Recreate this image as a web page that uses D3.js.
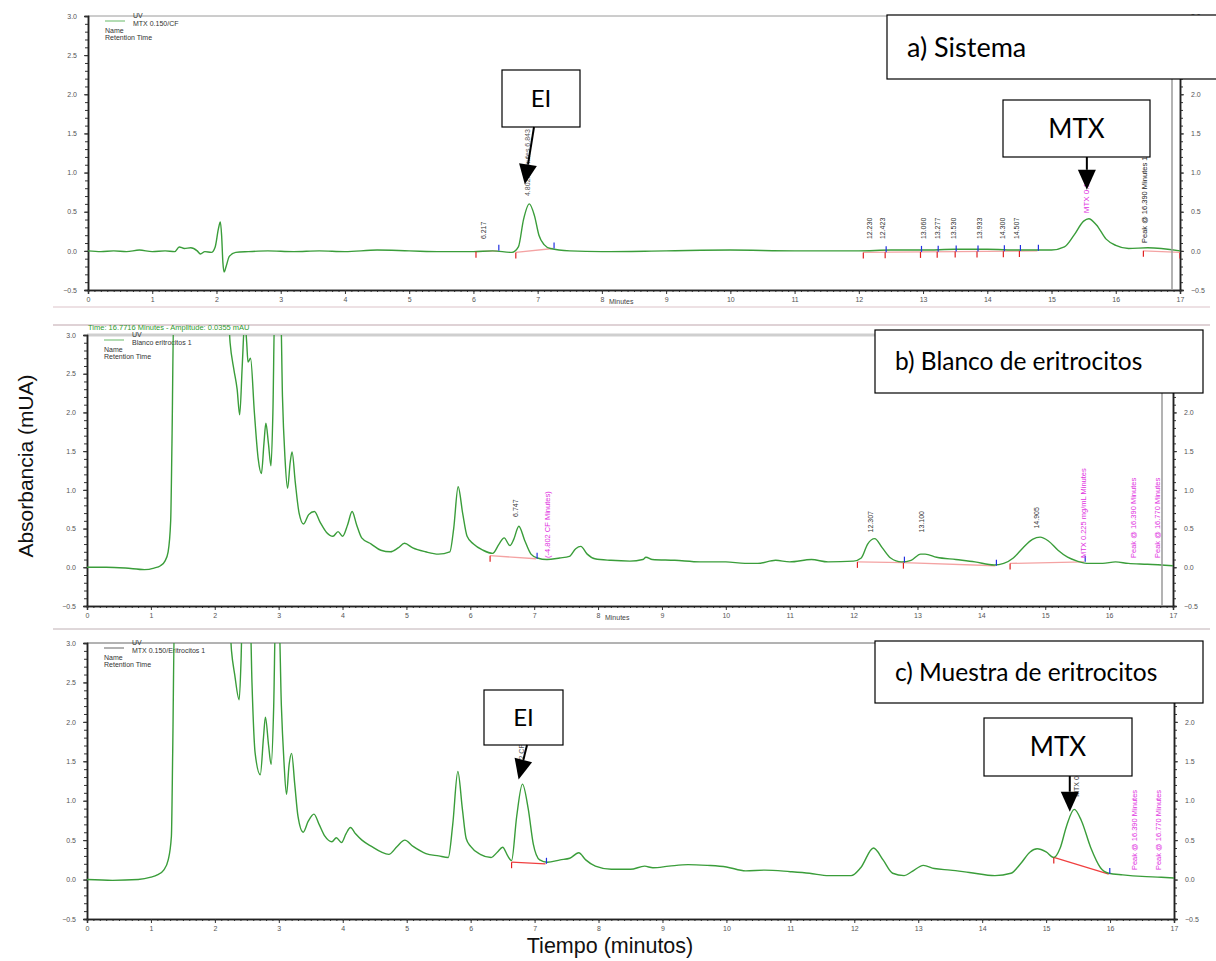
<!DOCTYPE html>
<html>
<head>
<meta charset="utf-8">
<script src="https://cdn.jsdelivr.net/npm/d3@7"></script>
<style>
  body { margin: 0; background: #fff; }
  svg { display: block; }
  .tick text { font-family: "Liberation Sans", Arial, sans-serif; }
</style>
</head>
<body>
<script>
// chromatogram traces, [minutes, mAU]
const sistema = [[0,0],[0.2,-0.01],[0.4,0.0],[0.6,-0.01],[0.8,0.01],[1.0,-0.01],[1.2,0.0],[1.35,-0.01],[1.42,0.05],[1.5,0.03],[1.6,0.04],[1.7,0.0],[1.75,-0.04],[1.82,-0.01],[1.92,-0.02],[1.98,0.05],[2.03,0.28],[2.06,0.37],[2.08,0.2],[2.1,-0.15],[2.12,-0.27],[2.15,-0.2],[2.2,-0.07],[2.3,-0.02],[2.5,-0.01],[2.8,0.0],[3.2,-0.01],[3.6,0.0],[4.0,-0.01],[4.5,0.01],[5.0,0.0],[5.5,-0.01],[6.0,-0.01],[6.3,0.0],[6.6,-0.02],[6.7,0.05],[6.78,0.4],[6.87,0.6],[6.95,0.45],[7.02,0.2],[7.1,0.08],[7.2,0.03],[7.5,0.0],[8.0,-0.01],[9.0,0.0],[10,0.01],[11,0.0],[12,0.0],[12.5,0.01],[13,0.01],[13.5,0.02],[14,0.02],[14.5,0.01],[15.0,0.01],[15.2,0.05],[15.35,0.2],[15.5,0.38],[15.58,0.41],[15.7,0.33],[15.85,0.15],[16.0,0.07],[16.2,0.03],[16.5,0.04],[17,0.0]]

const blanco = [[0,0],[0.3,0.0],[0.6,-0.01],[0.9,-0.03],[1.05,-0.01],[1.15,0.02],[1.22,0.08],[1.27,0.2],[1.31,0.6],[1.33,1.6],[1.36,3.4],[2.2,3.4],[2.24,2.9],[2.3,2.55],[2.35,2.3],[2.39,1.97],[2.43,2.6],[2.47,3.2],[2.5,2.9],[2.52,2.65],[2.56,2.7],[2.62,2.0],[2.68,1.4],[2.73,1.21],[2.77,1.6],[2.8,1.86],[2.84,1.6],[2.88,1.31],[2.91,2.0],[2.94,3.4],[3.03,3.4],[3.06,2.2],[3.1,1.4],[3.14,1.02],[3.18,1.35],[3.21,1.49],[3.26,1.1],[3.32,0.7],[3.39,0.56],[3.47,0.68],[3.56,0.72],[3.65,0.58],[3.75,0.45],[3.85,0.4],[3.93,0.46],[4.0,0.4],[4.08,0.55],[4.15,0.72],[4.22,0.55],[4.3,0.38],[4.45,0.3],[4.6,0.22],[4.75,0.2],[4.87,0.25],[4.97,0.31],[5.1,0.25],[5.3,0.2],[5.5,0.17],[5.68,0.2],[5.74,0.5],[5.81,1.04],[5.88,0.7],[5.95,0.4],[6.05,0.3],[6.2,0.22],[6.35,0.18],[6.45,0.3],[6.53,0.38],[6.62,0.28],[6.68,0.36],[6.76,0.53],[6.85,0.35],[6.95,0.17],[7.05,0.12],[7.2,0.1],[7.4,0.12],[7.55,0.14],[7.65,0.24],[7.73,0.27],[7.83,0.17],[7.95,0.11],[8.2,0.09],[8.5,0.08],[8.7,0.1],[8.75,0.13],[8.85,0.1],[9.2,0.09],[9.6,0.07],[10.0,0.07],[10.3,0.05],[10.5,0.05],[10.78,0.09],[11.0,0.07],[11.34,0.1],[11.6,0.07],[12.0,0.08],[12.12,0.12],[12.22,0.3],[12.33,0.37],[12.45,0.25],[12.58,0.12],[12.75,0.07],[12.9,0.09],[13.05,0.17],[13.12,0.17],[13.3,0.13],[13.6,0.1],[13.9,0.07],[14.2,0.03],[14.35,0.05],[14.5,0.12],[14.65,0.25],[14.8,0.36],[14.92,0.39],[15.05,0.34],[15.2,0.22],[15.35,0.13],[15.5,0.08],[15.65,0.05],[15.9,0.05],[16.1,0.07],[16.3,0.05],[16.6,0.04],[17,0.02]]

const muestra = [[0,0],[0.4,-0.01],[0.8,0.0],[1.0,0.03],[1.1,0.06],[1.2,0.12],[1.27,0.25],[1.32,0.55],[1.34,1.6],[1.37,3.4],[2.22,3.4],[2.26,2.9],[2.31,2.6],[2.38,2.28],[2.41,2.8],[2.43,3.4],[2.55,3.4],[2.58,2.5],[2.63,1.6],[2.71,1.33],[2.76,1.8],[2.79,2.06],[2.84,1.7],[2.88,1.46],[2.92,2.2],[2.95,3.4],[3.0,3.4],[3.04,2.2],[3.08,1.5],[3.12,1.08],[3.16,1.45],[3.2,1.6],[3.25,1.2],[3.3,0.8],[3.38,0.6],[3.46,0.74],[3.55,0.83],[3.63,0.7],[3.72,0.55],[3.83,0.48],[3.9,0.53],[3.98,0.47],[4.05,0.58],[4.12,0.66],[4.2,0.58],[4.3,0.5],[4.45,0.42],[4.6,0.35],[4.72,0.32],[4.85,0.42],[4.97,0.5],[5.1,0.42],[5.3,0.33],[5.5,0.3],[5.65,0.28],[5.72,0.7],[5.8,1.37],[5.87,0.9],[5.93,0.52],[6.0,0.42],[6.15,0.32],[6.32,0.28],[6.42,0.35],[6.5,0.41],[6.58,0.3],[6.64,0.24],[6.72,0.8],[6.81,1.21],[6.9,0.9],[6.98,0.45],[7.08,0.25],[7.2,0.22],[7.4,0.25],[7.55,0.27],[7.69,0.34],[7.8,0.25],[7.95,0.17],[8.2,0.13],[8.5,0.13],[8.72,0.17],[8.85,0.15],[9.1,0.17],[9.4,0.19],[9.7,0.18],[10.0,0.16],[10.3,0.11],[10.6,0.12],[11.0,0.1],[11.3,0.08],[11.6,0.05],[11.95,0.05],[12.1,0.15],[12.3,0.4],[12.45,0.25],[12.6,0.08],[12.78,0.05],[12.9,0.1],[13.08,0.18],[13.25,0.14],[13.5,0.12],[13.8,0.09],[14.2,0.05],[14.45,0.08],[14.6,0.2],[14.75,0.35],[14.86,0.39],[15.0,0.35],[15.12,0.28],[15.22,0.4],[15.32,0.68],[15.44,0.89],[15.55,0.75],[15.7,0.4],[15.85,0.15],[15.98,0.08],[16.2,0.06],[16.5,0.04],[16.8,0.03],[17,0.02]]

// integration baselines [t1, v1, t2, v2]
const baseA = [[6.04,-0.01,6.38,0.0],[6.66,-0.02,7.24,0.03],[12.07,-0.02,14.78,0.0],[16.43,0.0,17.0,-0.02]]
const baseB = [[6.31,0.15,7.03,0.11],[12.06,0.07,12.78,0.06],[12.78,0.06,14.22,0.02],[14.45,0.05,15.61,0.07]]
const baseC = [[6.64,0.22,7.17,0.2],[15.12,0.28,15.98,0.07]]
const redA = [6.04,6.66,12.07,12.41,12.96,13.22,13.5,13.84,14.25,14.5,16.43,17.0]
const blueA = [6.38,7.24,12.41,12.96,13.22,13.5,13.84,14.25,14.5,14.78]
const redB = [6.31,12.06,12.78,14.45]
const blueB = [7.03,12.78,14.22,15.61]
const redC = [6.64,15.12]
const blueC = [7.17,15.98]

// peak labels [minutes, text]
const labelsA = [[6.217,'6.217'],[12.23,'12.230'],[12.423,'12.423'],[13.06,'13.060'],[13.277,'13.277'],[13.53,'13.530'],[13.933,'13.933'],[14.3,'14.300'],[14.507,'14.507']]
const labelsB = [[6.747,'6.747'],[12.307,'12.307'],[13.1,'13.100'],[14.905,'14.905']]
const magentaB = [[7.22,'(-4.802 CF Minutes)'],[15.6,'MTX 0.225 mg/mL Minutes'],[16.39,'Peak @ 16.390 Minutes'],[16.77,'Peak @ 16.770 Minutes']]
const magentaC = [[16.39,'Peak @ 16.390 Minutes'],[16.77,'Peak @ 16.770 Minutes']]

const yTicks = [-0.5, 0.0, 0.5, 1.0, 1.5, 2.0, 2.5, 3.0]
const xTicks = d3.range(0, 18)

const W = 1216, H = 961
const svg = d3.select('body').append('svg').attr('width', W).attr('height', H)
const fnt = '"Liberation Sans", Arial, sans-serif'
const boxFont = 'Lato, "Open Sans", sans-serif'

const panels = [
  { data: sistema, x0: 88, x1: 1180, y0: 290, y1: 16, name: 'MTX 0.150/CF', base: baseA, red: redA, blue: blueA, minutes: true },
  { data: blanco, x0: 87, x1: 1173, y0: 606, y1: 335, name: 'Blanco eritrocitos 1', base: baseB, red: redB, blue: blueB, minutes: true },
  { data: muestra, x0: 87, x1: 1174, y0: 919, y1: 643, name: 'MTX 0.150/Eritrocitos 1', base: baseC, red: redC, blue: blueC, minutes: false }
]

// separators between the pasted panels
const sep = [[307, '#dcc3c9'], [325, '#bfa5ac'], [629, '#bfb0b4']]
sep.forEach(s => svg.append('line').attr('x1', 53).attr('x2', 1210).attr('y1', s[0]).attr('y2', s[0]).attr('stroke', s[1]).attr('stroke-width', 1))

panels.forEach((p, i) => {
  p.x = d3.scaleLinear().domain([0, 17]).range([p.x0, p.x1])
  p.y = d3.scaleLinear().domain([-0.5, 3.0]).range([p.y0, p.y1])
  const g = svg.append('g')

  // top frame
  const topStyle = [['#9a9a9a', 1], ['#cfcfcf', 3], ['#666', 1]][i]
  g.append('line').attr('x1', p.x0).attr('x2', p.x1).attr('y1', p.y1).attr('y2', p.y1)
    .attr('stroke', topStyle[0]).attr('stroke-width', topStyle[1])

  const clipId = 'clip' + i
  svg.append('clipPath').attr('id', clipId).append('rect')
    .attr('x', p.x0).attr('y', p.y1).attr('width', p.x1 - p.x0).attr('height', p.y0 - p.y1)

  // axes
  const yMinor = d3.range(-0.5, 3.001, 0.1)
  const xMinor = d3.range(0, 17.001, 0.1)
  g.append('g').attr('transform', `translate(${p.x0},0)`)
    .call(d3.axisLeft(p.y).tickValues(yMinor).tickSize(3).tickFormat(''))
  g.append('g').attr('transform', `translate(${p.x0},0)`)
    .call(d3.axisLeft(p.y).tickValues(yTicks).tickSize(4).tickPadding(7).tickFormat(d3.format('.1f')))
  g.append('g').attr('transform', `translate(${p.x1},0)`)
    .call(d3.axisRight(p.y).tickValues(yMinor).tickSize(3).tickFormat(''))
  g.append('g').attr('transform', `translate(${p.x1},0)`)
    .call(d3.axisRight(p.y).tickValues(yTicks).tickSize(4).tickPadding(7).tickFormat(d3.format('.1f')))
  g.append('g').attr('transform', `translate(0,${p.y0})`)
    .call(d3.axisBottom(p.x).tickValues(xMinor).tickSize(2).tickFormat(''))
  g.append('g').attr('transform', `translate(0,${p.y0})`)
    .call(d3.axisBottom(p.x).tickValues(xTicks).tickSize(4).tickPadding(3).tickFormat(d3.format('d')))
  g.selectAll('.domain').attr('stroke', '#222').attr('stroke-width', 1.5)
  g.selectAll('.tick line').attr('stroke', '#333')
  g.selectAll('.tick text').attr('font-size', 7).attr('fill', '#555')

  if (p.minutes) {
    g.append('text').attr('x', p.x(8.3)).attr('y', p.y0 + 14).attr('text-anchor', 'middle')
      .attr('font-family', fnt).attr('font-size', 7).attr('fill', '#444').text('Minutes')
  }

  // legend block
  const lx = p.x0 + 17, ly = p.y1
  g.append('line').attr('x1', lx).attr('x2', lx + 20).attr('y1', ly + 5).attr('y2', ly + 5)
    .attr('stroke', i === 2 ? '#999' : '#9ad09a').attr('stroke-width', 1.5)
  const leg = [['UV', lx + 28, ly + 2], [p.name, lx + 28, ly + 9.5], ['Name', lx, ly + 16.5], ['Retention Time', lx, ly + 23.5]]
  leg.forEach(l => g.append('text').attr('x', l[1]).attr('y', l[2]).attr('font-family', fnt)
    .attr('font-size', 7).attr('fill', '#333').text(l[0]))

  // integration baselines
  const plot = g.append('g').attr('clip-path', `url(#${clipId})`)
  plot.selectAll('line.base').data(p.base).enter().append('line')
    .attr('x1', d => p.x(d[0])).attr('y1', d => p.y(d[1]))
    .attr('x2', d => p.x(d[2])).attr('y2', d => p.y(d[3]))
    .attr('stroke', i === 2 ? '#f04040' : '#f4a3a3').attr('stroke-width', 1.3)

  // trace
  const line = d3.line().x(d => p.x(d[0])).y(d => p.y(d[1])).curve(d3.curveMonotoneX)
  plot.append('path').datum(p.data).attr('d', line).attr('fill', 'none')
    .attr('stroke', '#3a9d3a').attr('stroke-width', 1.4)

  // peak start / end marks
  const baseAt = t => {
    const seg = p.base.find(s => t >= s[0] - 0.01 && t <= s[2] + 0.01)
    if (!seg) return 0
    return seg[1] + (seg[3] - seg[1]) * (t - seg[0]) / (seg[2] - seg[0])
  }
  p.red.forEach(t => plot.append('line').attr('x1', p.x(t)).attr('x2', p.x(t))
    .attr('y1', p.y(baseAt(t))).attr('y2', p.y(baseAt(t)) + 6).attr('stroke', '#e02020').attr('stroke-width', 1.2))
  p.blue.forEach(t => plot.append('line').attr('x1', p.x(t) + 1).attr('x2', p.x(t) + 1)
    .attr('y1', p.y(baseAt(t)) - 6).attr('y2', p.y(baseAt(t))).attr('stroke', '#2030e0').attr('stroke-width', 1.2))
})

const [pa, pb, pc] = panels

const vtext = (x, y, txt, color, size) => svg.append('text')
  .attr('transform', `translate(${x},${y}) rotate(-90)`)
  .attr('font-family', fnt).attr('font-size', size || 7).attr('fill', color)
  .attr('dominant-baseline', 'middle').text(txt)

labelsA.forEach(l => vtext(pa.x(l[0]) - 3, pa.y(0.15), l[1], '#333'))
vtext(pa.x(6.86), pa.y(0.7), '4.802x Minutes 6.843', '#555')
vtext(pa.x(15.55), pa.y(0.48), 'MTX 0.150', '#e030e0', 8)
vtext(pa.x(16.45), pa.y(0.1), 'Peak @ 16.390 Minutes  16.500', '#222', 7.5)

labelsB.forEach(l => vtext(pb.x(l[0]) - 2, pb.y(l[0] > 14 ? 0.5 : (l[0] < 7 ? 0.65 : 0.45)), l[1], '#333'))
magentaB.forEach(l => vtext(pb.x(l[0]), pb.y(0.12), l[1], '#e030e0', 7.5))
magentaC.forEach(l => vtext(pc.x(l[0]), pc.y(0.12), l[1], '#e030e0', 7.5))
vtext(pc.x(15.48), pc.y(1.05), 'MTX 0.225', '#333', 7)
vtext(pc.x(6.8), pc.y(1.35), '4.802 CF', '#555', 7)

// the cursor lines
svg.append('line').attr('x1', 1172).attr('x2', 1172).attr('y1', 79).attr('y2', pa.y0).attr('stroke', '#9a9a9a').attr('stroke-width', 1.5)
svg.append('line').attr('x1', 1162).attr('x2', 1162).attr('y1', 393).attr('y2', pb.y0).attr('stroke', '#9a9a9a').attr('stroke-width', 1.5)

svg.append('text').attr('x', 88).attr('y', 330).attr('font-family', fnt).attr('font-size', 7.5)
  .attr('fill', '#2f9a2f').text('Time:   16.7716 Minutes  -  Amplitude:   0.0355 mAU')

// annotation boxes
const box = (x, y, w, h, txt, size, tx) => {
  svg.append('rect').attr('x', x).attr('y', y).attr('width', w).attr('height', h)
    .attr('fill', '#fff').attr('stroke', '#000').attr('stroke-width', 1.2)
  svg.append('text').attr('x', tx === undefined ? x + w / 2 : tx).attr('y', y + h / 2 + size * 0.36)
    .attr('text-anchor', tx === undefined ? 'middle' : 'start')
    .attr('font-family', boxFont).attr('font-size', size).attr('fill', '#000').text(txt)
}

const arrow = (x1, y1, x2, y2) => {
  const a = Math.atan2(y2 - y1, x2 - x1), L = 20, Wd = 9
  const bx = x2 - L * Math.cos(a), by = y2 - L * Math.sin(a)
  svg.append('line').attr('x1', x1).attr('y1', y1).attr('x2', bx).attr('y2', by)
    .attr('stroke', '#000').attr('stroke-width', 2)
  svg.append('path').attr('fill', '#000').attr('d', d3.line()([
    [x2, y2],
    [bx + Wd * Math.sin(a), by - Wd * Math.cos(a)],
    [bx - Wd * Math.sin(a), by + Wd * Math.cos(a)]
  ]) + 'Z')
}

box(887, 15, 335, 64, 'a) Sistema', 27, 907)
box(875, 330, 328, 63, 'b) Blanco de eritrocitos', 24.5, 895)
box(875, 641, 328, 62, 'c) Muestra de eritrocitos', 24.5, 895)

box(502, 70, 78, 57, 'EI', 24)
arrow(534, 127, pa.x(6.8), pa.y(0.85))
box(1003, 100, 147, 57, 'MTX', 26)
arrow(pa.x(15.55), 157, pa.x(15.55), pa.y(0.78))

box(484, 690, 79, 55, 'EI', 24)
arrow(527, 745, pc.x(6.75), pc.y(1.27))
box(984, 718, 148, 58, 'MTX', 26)
arrow(pc.x(15.37), 776, pc.x(15.37), pc.y(0.86))

// axis titles
svg.append('text').attr('transform', 'translate(33,466) rotate(-90)').attr('text-anchor', 'middle')
  .attr('font-family', fnt).attr('font-size', 21).attr('fill', '#111').text('Absorbancia (mUA)')
svg.append('text').attr('x', 610).attr('y', 953).attr('text-anchor', 'middle')
  .attr('font-family', fnt).attr('font-size', 21.5).attr('fill', '#111').text('Tiempo (minutos)')
</script>
</body>
</html>
